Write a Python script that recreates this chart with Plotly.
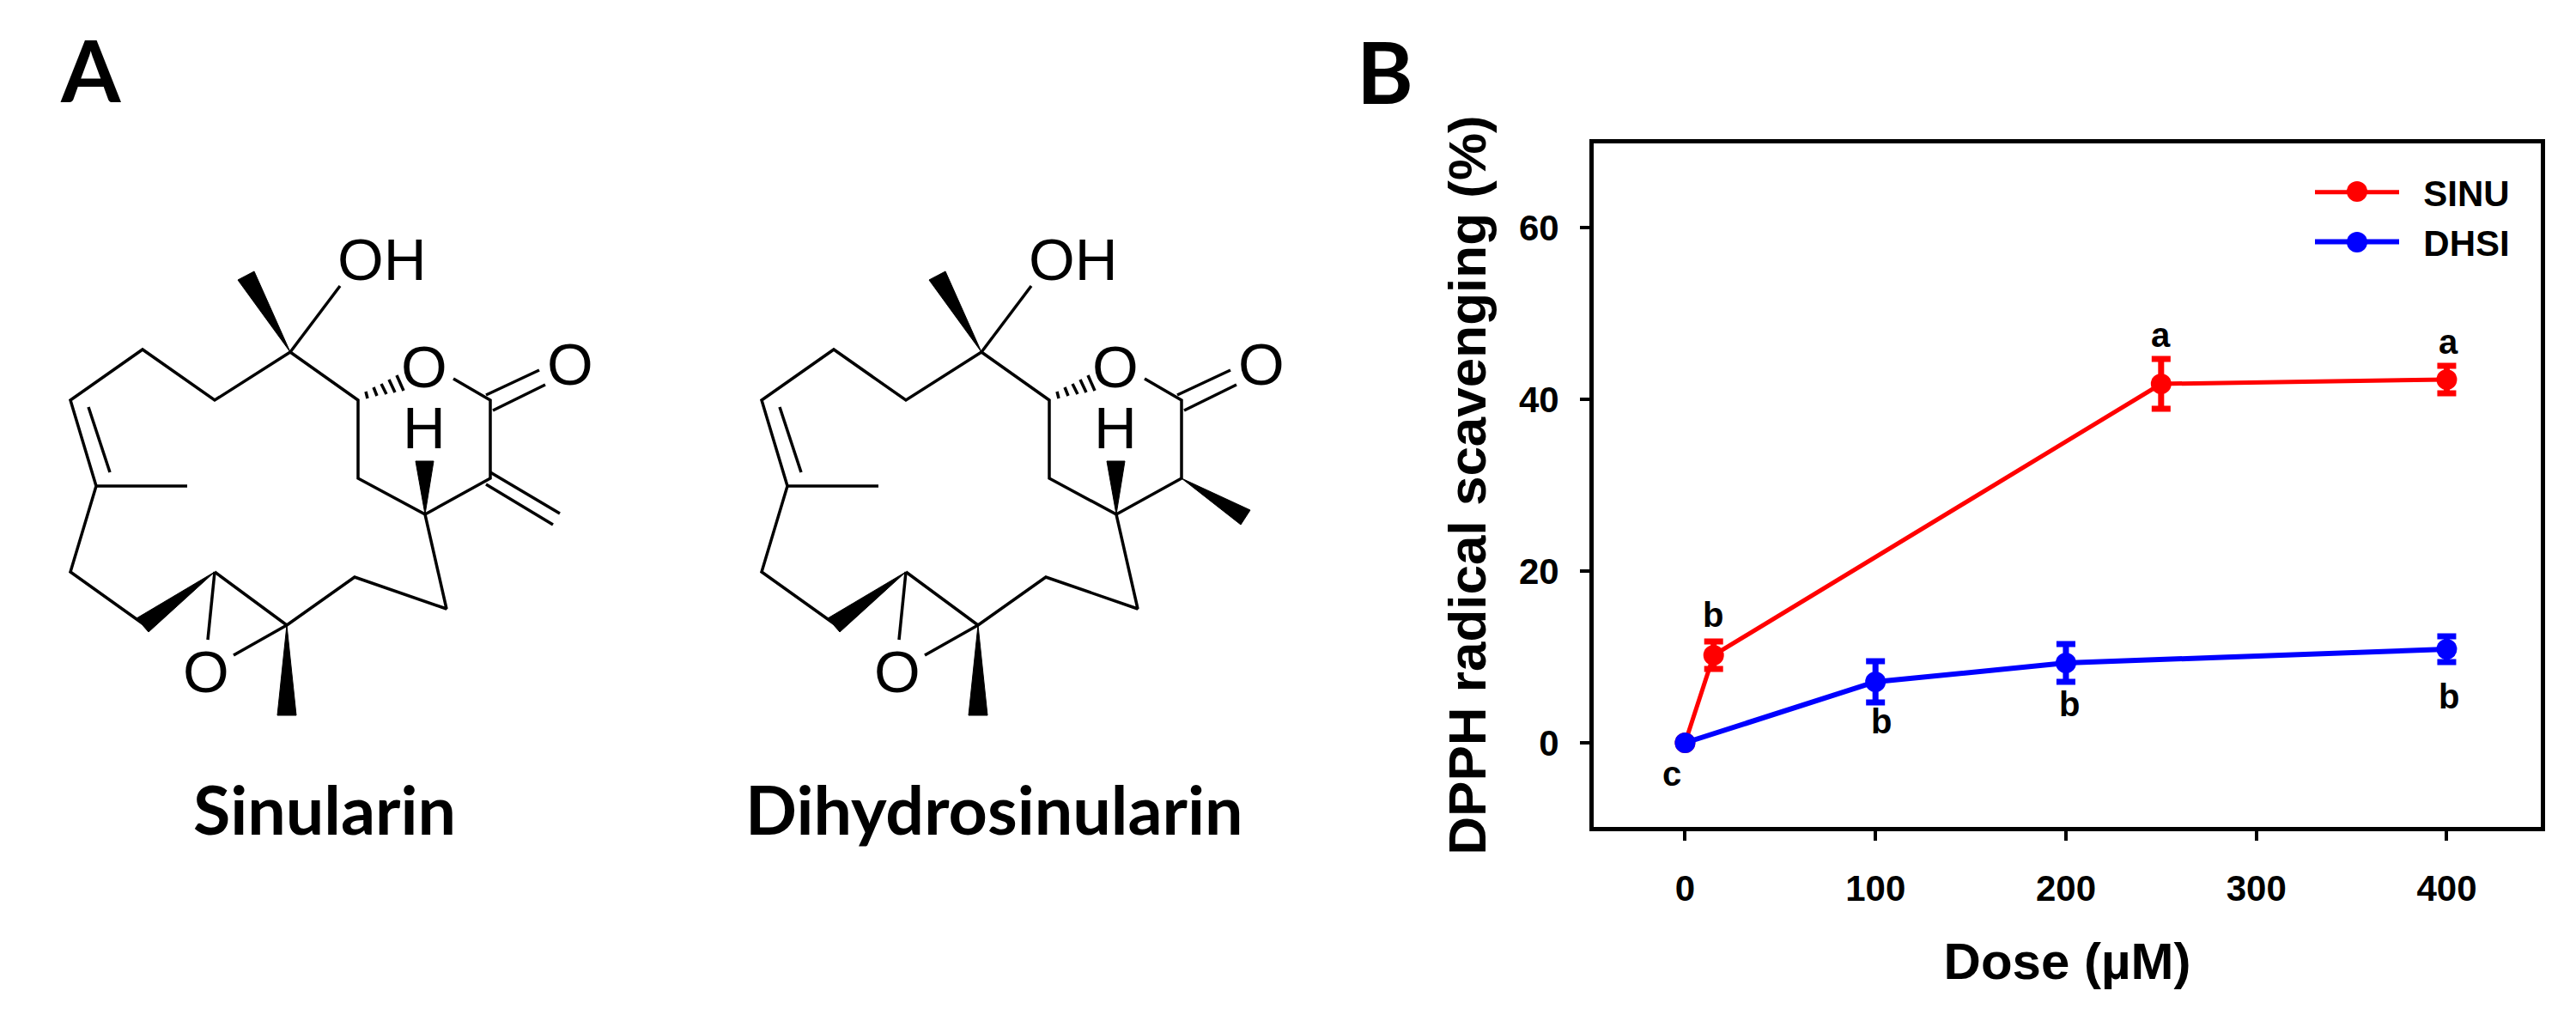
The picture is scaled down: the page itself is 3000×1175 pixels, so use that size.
import plotly.graph_objects as go

# ---------- chart data ----------
SINU_DOSE = [0, 15, 250, 400]
SINU_VALUE = [0, 10.2, 41.8, 42.3]
SINU_ERROR = [0, 1.6, 2.9, 1.6]
DHSI_DOSE = [0, 100, 200, 400]
DHSI_VALUE = [0, 7.1, 9.3, 10.9]
DHSI_ERROR = [0, 2.4, 2.2, 1.5]
X_TICKS = [0, 100, 200, 300, 400]
Y_TICKS = [0, 20, 40, 60]
LETTERS = [("a", 250, 47.5), ("a", 401, 46.7), ("b", 14.6, 14.9), ("b", 103, 2.5),
           ("b", 202, 4.5), ("b", 401, 5.4), ("c", -7, -3.6)]

# ---------- structure drawing (figure pixels, Dihydrosinularin placement) ----------
RING_PATH = [(1143, 410), (1055, 466), (971, 407), (887, 466), (917, 566), (887, 666), (971, 726)]
RING_PATH2 = [(1055, 666), (1139, 728), (1218, 672), (1325, 709), (1300, 599), (1222, 557), (1222, 466), (1143, 410)]
COMMON_BONDS = [
    [(1143, 410), (1201, 333)],
    [(908, 474), (933, 550)],
    [(917, 566), (1023, 566)],
    [(1055, 666), (1047, 745)],
    [(1139, 728), (1077, 763)],
    [(1333, 441), (1376, 466), (1376, 557), (1300, 599)],
    [(1371, 460), (1433, 431)],
    [(1379, 478), (1440, 448)],
]
COMMON_WEDGES = [
    [(1143, 410), (1082, 326), (1101, 316)],
    [(1055, 666), (964, 720), (978, 736)],
    [(1139, 728), (1128, 833), (1150, 833)],
    [(1300, 599), (1289, 537), (1310, 537)],
]
HASH_LINES = [
    [(1231, 456), (1233, 464)],
    [(1240, 451), (1244, 461)],
    [(1249, 447), (1255, 459)],
    [(1258, 442), (1265, 457)],
    [(1267, 437), (1275, 455)],
]
COMMON_LABELS = [("OH", 1250, 302), ("O", 1299, 427), ("O", 1469, 424), ("H", 1299, 498), ("O", 1045, 782)]
SINULARIN_OFFSET = -805
EXOCYCLIC_BONDS = [[(571, 550), (652, 598)], [(566, 564), (644, 611)]]
DIHYDRO_METHYL_WEDGE = [(1376, 557), (1456, 594), (1445, 611)]
LEGEND_SWATCHES = [("#ff0000", 2745, 223), ("#0000ff", 2745, 282)]

fig = go.Figure()


def bond_trace(bonds, dx):
    xs, ys = [], []
    for path in bonds:
        xs += [p[0] + dx for p in path] + [None]
        ys += [p[1] for p in path] + [None]
    fig.add_trace(go.Scatter(x=xs, y=ys, mode="lines", xaxis="x2", yaxis="y2", showlegend=False,
                             hoverinfo="skip", line=dict(color="#000000", width=3.5)))


def wedge_trace(wedges, dx):
    xs, ys = [], []
    for tri in wedges:
        xs += [p[0] + dx for p in tri] + [tri[0][0] + dx, None]
        ys += [p[1] for p in tri] + [tri[0][1], None]
    fig.add_trace(go.Scatter(x=xs, y=ys, mode="lines", fill="toself", fillcolor="#000000", xaxis="x2", yaxis="y2",
                             showlegend=False, hoverinfo="skip", line=dict(color="#000000", width=1)))


for dx, extra_wedges in [(SINULARIN_OFFSET, []), (0, [DIHYDRO_METHYL_WEDGE])]:
    bond_trace([RING_PATH, RING_PATH2] + COMMON_BONDS, dx)
    bond_trace(HASH_LINES, dx)
    wedge_trace(COMMON_WEDGES + extra_wedges, dx)
bond_trace(EXOCYCLIC_BONDS, 0)

# ---------- chart ----------
fig.add_trace(go.Scatter(x=SINU_DOSE, y=SINU_VALUE, name="\u00a0\u00a0<b>SINU</b>", mode="lines+markers",
                         line=dict(color="#ff0000", width=5), marker=dict(color="#ff0000", size=24),
                         error_y=dict(type="data", array=SINU_ERROR, color="#ff0000", thickness=7, width=11)))
fig.add_trace(go.Scatter(x=DHSI_DOSE, y=DHSI_VALUE, name="\u00a0\u00a0<b>DHSI</b>", mode="lines+markers",
                         line=dict(color="#0000ff", width=6), marker=dict(color="#0000ff", size=24),
                         error_y=dict(type="data", array=DHSI_ERROR, color="#0000ff", thickness=7, width=11)))
# full-size markers on the legend rows (native legend markers are capped in size)
for color, x, y in LEGEND_SWATCHES:
    fig.add_trace(go.Scatter(x=[x], y=[y], mode="markers", xaxis="x2", yaxis="y2", showlegend=False,
                             hoverinfo="skip", marker=dict(color=color, size=24)))

FONT = "Liberation Sans"
annotations = []
for text, x, y in LETTERS:
    annotations.append(dict(text=f"<b>{text}</b>", x=x, y=y, xref="x", yref="y", showarrow=False,
                            font=dict(family=FONT, size=40, color="#000000")))
for dx in (SINULARIN_OFFSET, 0):
    for text, x, y in COMMON_LABELS:
        annotations.append(dict(text=text, x=x + dx, y=y, xref="x2", yref="y2", showarrow=False,
                                font=dict(family=FONT, size=69, color="#000000")))
for text, x, y, size in [("A", 105, 80, 100), ("B", 1613, 82, 100),
                         ("Sinularin", 378, 941, 79), ("Dihydrosinularin", 1158, 941, 79)]:
    annotations.append(dict(text=f"<b>{text}</b>", x=x, y=y, xref="x2", yref="y2", showarrow=False,
                            font=dict(family="Lato", size=size, color="#000000")))

W, H = 3000, 1175
LEFT, RIGHT, TOP, BOTTOM = 1856, 2959, 167, 963
axis_style = dict(showgrid=False, zeroline=False, showline=True, linecolor="#000000", linewidth=5, mirror=True,
                  ticks="outside", ticklen=11, tickwidth=4, tickcolor="#000000",
                  tickfont=dict(family=FONT, size=42, color="#000000"))
fig.update_layout(
    width=W, height=H, autosize=False, margin=dict(l=0, r=0, t=0, b=0),
    paper_bgcolor="#ffffff", plot_bgcolor="rgba(0,0,0,0)",
    xaxis=dict(domain=[LEFT / W, RIGHT / W], range=[-48, 449.4], tickvals=X_TICKS, ticktext=[f"<b>{v}</b>" for v in X_TICKS],
               ticklabelstandoff=20, anchor="y",
               title=dict(text="<b>Dose (µM)</b>", font=dict(family=FONT, size=60, color="#000000"), standoff=42),
               **axis_style),
    yaxis=dict(domain=[1 - BOTTOM / H, 1 - TOP / H], range=[-9.8, 69.8], tickvals=Y_TICKS, ticktext=[f"<b>{v}</b>" for v in Y_TICKS],
               ticklabelstandoff=16, anchor="x",
               title=dict(text="<b>DPPH radical scavenging (%)</b>", font=dict(family=FONT, size=62, color="#000000"), standoff=20),
               **axis_style),
    xaxis2=dict(domain=[0, 1], range=[0, W], visible=False, anchor="y2"),
    yaxis2=dict(domain=[0, 1], range=[H, 0], visible=False, anchor="x2"),
    legend=dict(x=2691 / W, xanchor="left", y=1 - 190 / H, yanchor="top", bgcolor="rgba(0,0,0,0)", itemwidth=98,
                font=dict(family=FONT, size=42, color="#000000"), itemsizing="trace", borderwidth=0),
    annotations=annotations,
)
fig.write_html("out.html", post_script="document.body.style.margin='0';", config={"displayModeBar": False})
